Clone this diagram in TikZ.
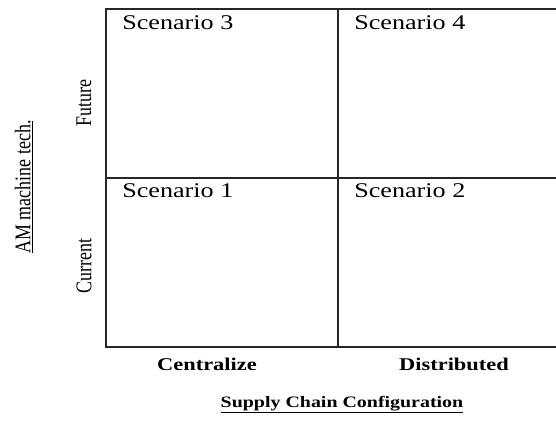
\documentclass[tikz,border=0pt]{standalone}
\usepackage{fontspec}
\setmainfont{Liberation Serif}
\begin{document}
\begin{tikzpicture}[x=1bp, y=1bp,
    cell/.style={anchor=base west, xscale=1.25, inner sep=0pt, font=\fontsize{21}{24}\selectfont},
    axislab/.style={anchor=base, xscale=1.25, inner sep=0pt, font=\fontsize{18}{21}\selectfont\bfseries},
    sidelab/.style={xscale=1.25, rotate=90, inner sep=0pt, font=\fontsize{18}{21}\selectfont}]
    \useasboundingbox (0,0) rectangle (556,421);

    % Grid
    \draw[line width=1.3bp, black!85] (556,412) -- (106,412) -- (106,74) -- (556,74);
    \draw[line width=1.3bp, black!85] (106,243) -- (556,243);
    \draw[line width=1.3bp, black!85] (338,412) -- (338,74);

    % Scenario cells
    \node[cell] (s3) at (122,391) {Scenario 3};
    \node[cell] (s4) at (354,391) {Scenario 4};
    \node[cell] (s1) at (122,224) {Scenario 1};
    \node[cell] (s2) at (354,224) {Scenario 2};

    % Horizontal axis
    \node[axislab] (cen) at (207,51) {Centralize};
    \node[axislab] (dis) at (454,51) {Distributed};
    \node[axislab, font=\fontsize{16}{19}\selectfont\bfseries] (scc) at (342,14) {\underline{Supply Chain Configuration}};

    % Vertical axis
    \node[sidelab] (fut) at (84,318) {Future};
    \node[sidelab] (cur) at (84,155) {Current};
    \node[sidelab] (am) at (24,234) {\underline{AM machine tech.}};
\end{tikzpicture}
\end{document}
